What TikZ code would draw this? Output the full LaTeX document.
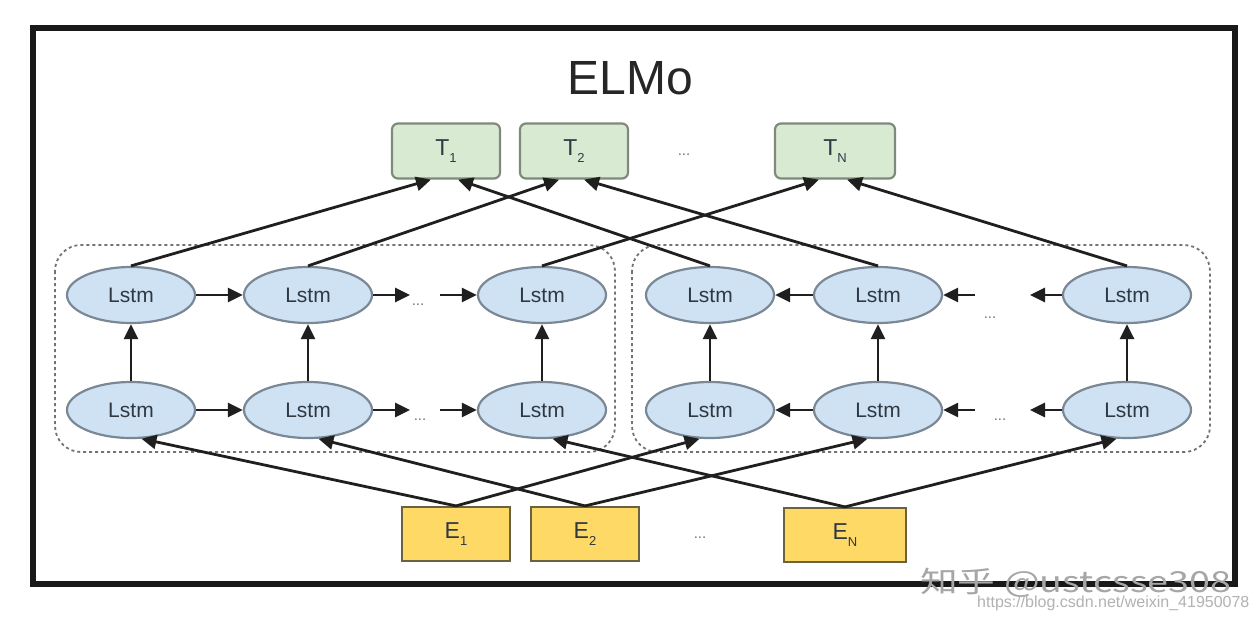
\documentclass[tikz,border=0pt]{standalone}
\usepackage{fontspec}
\setmainfont{Liberation Sans}
\newfontfamily\cjkfont{Noto Sans CJK SC}
\usetikzlibrary{arrows.meta,shapes.geometric}
\definecolor{lstmfill}{HTML}{CFE2F3}
\definecolor{lstmdraw}{HTML}{7A8896}
\definecolor{tfill}{HTML}{D9EAD3}
\definecolor{tdraw}{HTML}{7F8A7C}
\definecolor{efill}{HTML}{FFD966}
\definecolor{edraw}{HTML}{6B6340}
\definecolor{txt}{HTML}{2E3944}
\newcommand{\lowsub}[1]{\raisebox{-0.32em}{\fontsize{13}{13}\selectfont #1}}
\begin{document}
\begin{tikzpicture}[x=1pt,y=-1pt,
  lstm/.style={ellipse,draw=lstmdraw,fill=lstmfill,line width=2.2pt,minimum width=128pt,minimum height=56pt,inner sep=0pt,font=\fontsize{21}{21}\selectfont,text=txt},
  tbox/.style={rectangle,rounded corners=6pt,draw=tdraw,fill=tfill,line width=2.2pt,minimum width=108pt,minimum height=55pt,inner sep=0pt,font=\fontsize{23}{23}\selectfont,text=txt},
  ebox/.style={rectangle,draw=edraw,fill=efill,line width=2.2pt,minimum width=108pt,minimum height=54pt,inner sep=0pt,font=\fontsize{23}{23}\selectfont,text=txt},
  arr/.style={draw=black!88,line width=2.8pt,-{Triangle[length=15pt,width=14pt]}},
  dashbox/.style={draw=black!55,line width=1.8pt,dash pattern=on 3pt off 3pt,rounded corners=26pt},
  dots/.style={font=\fontsize{15}{15}\selectfont,text=black!55}
]
\useasboundingbox (0,0) rectangle (1257,619);
\fill[white] (0,0) rectangle (1257,619);
% outer frame
\draw[line width=6pt,black!90] (33,28) rectangle (1235,584);
\node[font=\fontsize{48}{48}\selectfont,text=black!85] (title) at (630,78) {ELMo};

% dashed groups
\draw[dashbox] (55,245) rectangle (615,452);
\draw[dashbox] (632,245) rectangle (1210,452);

% T boxes
\node[tbox] (T1) at (446,151) {T\lowsub{1}};
\node[tbox] (T2) at (574,151) {T\lowsub{2}};
\node[tbox,minimum width=120pt] (TN) at (835,151) {T\lowsub{N}};
\node[dots] (tdots) at (684,155) {...};

% E boxes
\node[ebox] (E1) at (456,534) {E\lowsub{1}};
\node[ebox] (E2) at (585,534) {E\lowsub{2}};
\node[ebox,minimum width=122pt] (EN) at (845,535) {E\lowsub{N}};
\node[dots] (edots) at (700,538) {...};

% LSTM forward (left)
\node[lstm] (A1) at (131,295) {Lstm};
\node[lstm] (A2) at (308,295) {Lstm};
\node[lstm] (A3) at (542,295) {Lstm};
\node[lstm] (B1) at (131,410) {Lstm};
\node[lstm] (B2) at (308,410) {Lstm};
\node[lstm] (B3) at (542,410) {Lstm};
% LSTM backward (right)
\node[lstm] (C1) at (710,295) {Lstm};
\node[lstm] (C2) at (878,295) {Lstm};
\node[lstm] (C3) at (1127,295) {Lstm};
\node[lstm] (D1) at (710,410) {Lstm};
\node[lstm] (D2) at (878,410) {Lstm};
\node[lstm] (D3) at (1127,410) {Lstm};

% dots
\node[dots] (ad) at (418,305) {...};
\node[dots] (bd) at (420,420) {...};
\node[dots] (cd) at (990,318) {...};
\node[dots] (dd) at (1000,420) {...};
\coordinate (a2e) at (410,295);
\coordinate (a3s) at (440,295);
\coordinate (b2e) at (410,410);
\coordinate (b3s) at (440,410);
\coordinate (c2e) at (975,295);
\coordinate (c3s) at (1030,295);
\coordinate (d2e) at (975,410);
\coordinate (d3s) at (1030,410);

% horizontal arrows left
\draw[arr] (A1.east) -- (A2.west);
\draw[arr] (A2.east) -- (a2e);
\draw[arr] (a3s) -- (A3.west);
\draw[arr] (B1.east) -- (B2.west);
\draw[arr] (B2.east) -- (b2e);
\draw[arr] (b3s) -- (B3.west);
% horizontal arrows right
\draw[arr] (C2.west) -- (C1.east);
\draw[arr] (c2e) -- (C2.east);
\draw[arr] (C3.west) -- (c3s);
\draw[arr] (D2.west) -- (D1.east);
\draw[arr] (d2e) -- (D2.east);
\draw[arr] (D3.west) -- (d3s);

% vertical arrows
\foreach \u/\v in {B1/A1,B2/A2,B3/A3,D1/C1,D2/C2,D3/C3}
  \draw[arr] (\u.north) -- (\v.south);

% E to bottom LSTMs
\draw[arr] (E1.north) -- (B1.-70);
\draw[arr] (E2.north) -- (B2.-70);
\draw[arr] (EN.north) -- (B3.-70);
\draw[arr] (E1.north) -- (D1.-110);
\draw[arr] (E2.north) -- (D2.-110);
\draw[arr] (EN.north) -- (D3.-110);

% top LSTMs to T
\draw[arr] (A1.north) -- ([xshift=-15pt]T1.south);
\draw[arr] (A2.north) -- ([xshift=-15pt]T2.south);
\draw[arr] (A3.north) -- ([xshift=-16pt]TN.south);
\draw[arr] (C1.north) -- ([xshift=12pt]T1.south);
\draw[arr] (C2.north) -- ([xshift=10pt]T2.south);
\draw[arr] (C3.north) -- ([xshift=12pt]TN.south);

% watermark
\node[text=black!35,font=\cjkfont\fontsize{29}{29}\selectfont,anchor=west,xscale=1.3,inner sep=0pt] (wm1) at (920,583) {知乎 @ustcsse308};
\node[text=black!30,font=\fontsize{16}{16}\selectfont,anchor=west,inner sep=0pt] (wm2) at (977,603) {https://blog.csdn.net/weixin\_41950078};
\end{tikzpicture}
\end{document}
